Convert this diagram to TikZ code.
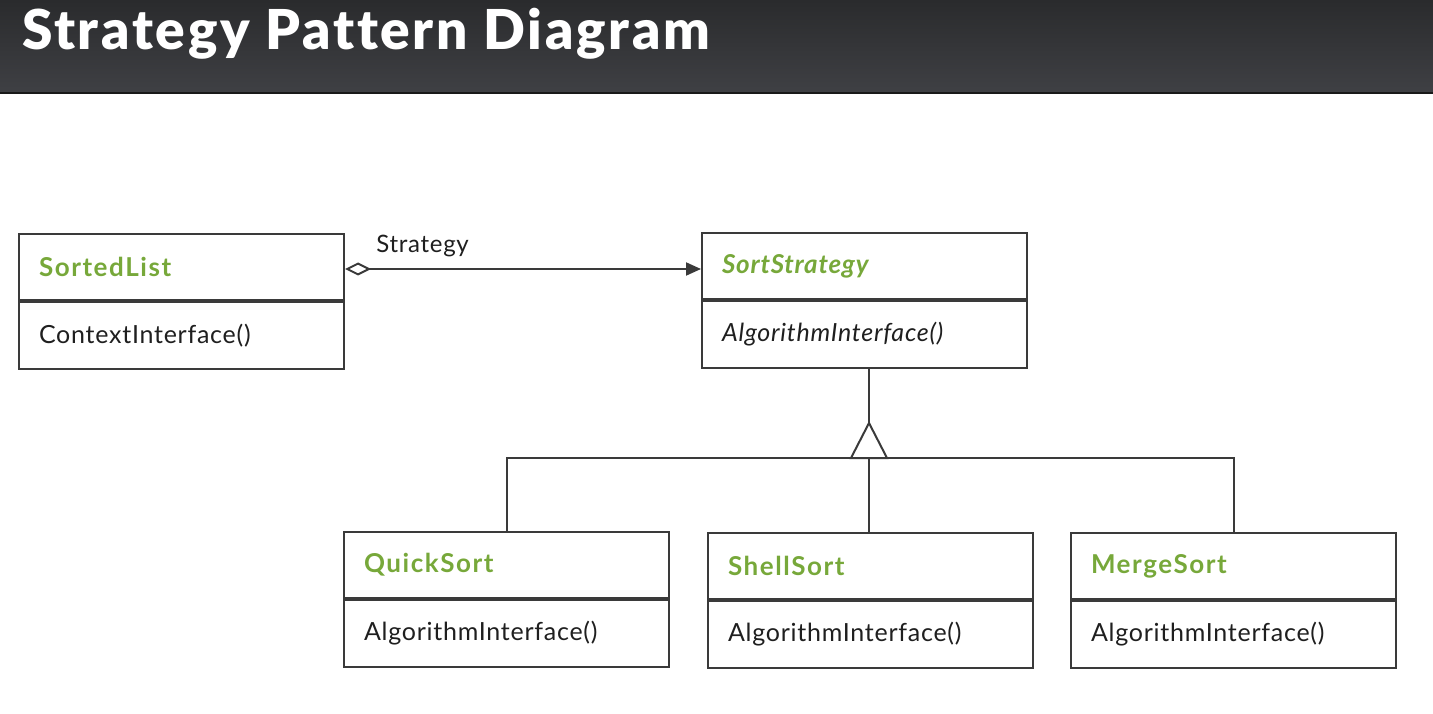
\documentclass[tikz,border=0pt]{standalone}
\usepackage{fontspec}
\setmainfont{Lato}[LetterSpace=3,BoldFeatures={LetterSpace=6}]
\newfontfamily\titlefont{Lato Black}[LetterSpace=5,Ligatures=NoCommon]
\usepackage{tikz}
\usetikzlibrary{positioning,arrows.meta}
\usepackage{xcolor}
\definecolor{umlgreen}{HTML}{77A83A}
\definecolor{umlline}{HTML}{3A3A3A}
\definecolor{bartop}{HTML}{2A2B2D}
\definecolor{barbot}{HTML}{3F4044}

\begin{document}
\begin{tikzpicture}[x=1pt,y=-1pt,line width=2pt,draw=umlline,
  head/.style={draw=umlline,anchor=north west,minimum width=325pt,minimum height=66pt,text width=285pt,inner xsep=20pt,align=left,font=\fontsize{26}{30}\selectfont\bfseries,text=umlgreen},
  body/.style={draw=umlline,minimum width=325pt,minimum height=67pt,text width=285pt,inner xsep=20pt,align=left,font=\fontsize{25}{29}\selectfont,text=black!88}]
\useasboundingbox (0,0) rectangle (1433,714);
\shade[top color=bartop,bottom color=barbot] (0,0) rectangle (1433,93);
\draw[black!90,line width=1.5pt] (0,93) -- (1433,93);
\node[anchor=base west,inner sep=0pt,text=white,font=\fontsize{55}{60}\titlefont] (title) at (21,50) {Strategy Pattern Diagram};

\node[head] (list) at (18,233) {SortedList};
\node[body,below=0pt of list] (listops) {ContextInterface()};
\node[head,font=\fontsize{26}{30}\selectfont\bfseries\itshape] (strat) at (701,232) {SortStrategy};
\node[body,below=0pt of strat,font=\fontsize{25}{29}\selectfont\itshape] (stratops) {AlgorithmInterface()};
\node[head] (quick) at (343,531) {QuickSort};
\node[body,below=0pt of quick] (quickops) {AlgorithmInterface()};
\node[head] (shell) at (707,532) {ShellSort};
\node[body,below=0pt of shell] (shellops) {AlgorithmInterface()};
\node[head] (merge) at (1070,532) {MergeSort};
\node[body,below=0pt of merge] (mergeops) {AlgorithmInterface()};

\draw[umlline,{Diamond[open,length=26pt,width=13pt]}-{Triangle[length=15pt,width=13pt]}] ([yshift=-2pt]list.east) -- ([yshift=-2pt]list.east -| strat.west)
  node[pos=0,anchor=south west,xshift=27pt,yshift=8pt,font=\fontsize{24}{28}\selectfont,text=black!88]{Strategy};

\coordinate (apex) at (869,423);
\coordinate (bus) at (869,458);
\draw[umlline] (stratops.south -| apex) -- (apex);
\draw[umlline,line join=miter] (apex) -- ++(-18,35) -- ++(36,0) -- cycle;
\draw[umlline] (quick.north) |- (bus) -| (merge.north);
\draw[umlline] (bus) -- (bus |- shell.north);
\end{tikzpicture}
\end{document}
